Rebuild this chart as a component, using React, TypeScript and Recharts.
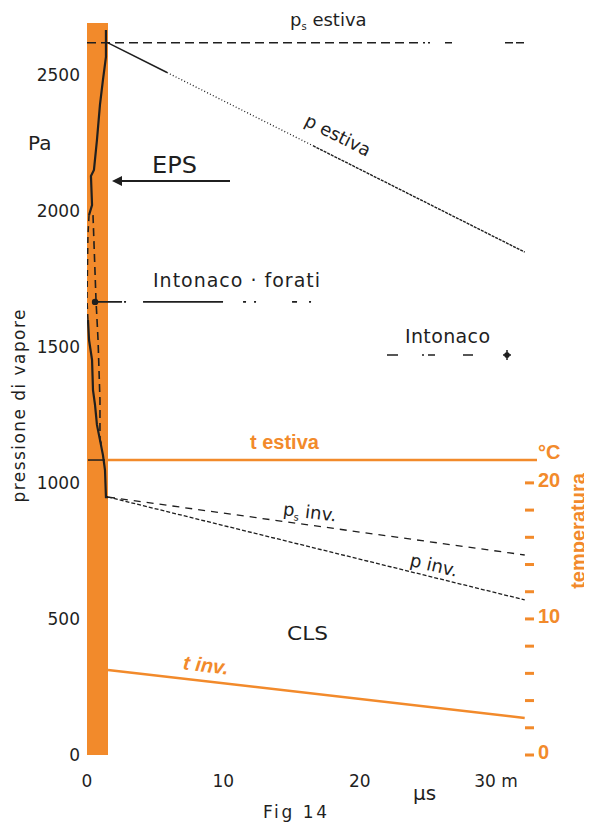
import React from "react";
import { ComposedChart, Line, Area, XAxis, YAxis } from "recharts";

const ORANGE = "#F28A2B";
const INK = "#1f1f1f";
const SANS = "'DejaVu Sans', sans-serif";
const BOLD = "'Liberation Sans', Arial, sans-serif";

// axis ticks
const xTicks = [0, 10, 20, 30];
const pTicks = [0, 500, 1000, 1500, 2000, 2500];
const tTicks = [0, 2, 4, 6, 8, 10, 12, 14, 16, 18, 20];
const tLabeled = [0, 10, 20];

// EPS layer (orange band), x in μs [m], p in Pa
const epsLayer = [
  { x: 0, p: 2690 },
  { x: 1.54, p: 2690 },
];

// summer (estiva) vapour pressures
const psEstiva = [
  { x: 0, p: 2617 },
  { x: 24.42, p: 2617 },
];
const psEstivaTail = [
  { x: 24.64, p: 2617 },
  { x: 32.1, p: 2617 },
];
const pEstivaSolid = [
  { x: 1.54, p: 2617 },
  { x: 5.87, p: 2508 },
];
const pEstivaDotted = [
  { x: 5.87, p: 2508 },
  { x: 16.57, p: 2239 },
];
const pEstivaDashed = [
  { x: 16.57, p: 2239 },
  { x: 32.1, p: 1848 },
];

// curves inside the EPS band
const epsCurveUpper = [
  { x: 1.39, p: 2664 },
  { x: 1.39, p: 2565 },
  { x: 1.17, p: 2481 },
  { x: 0.95, p: 2389 },
  { x: 0.73, p: 2260 },
  { x: 0.51, p: 2150 },
  { x: 0.29, p: 2128 },
  { x: 0.37, p: 2021 },
  { x: 0.15, p: 1984 },
];
const epsCurveGap = [
  { x: 0.15, p: 1984 },
  { x: 0.07, p: 1911 },
  { x: 0.0, p: 1672 },
  { x: 0.07, p: 1599 },
];
const epsCurveLower = [
  { x: 0.07, p: 1599 },
  { x: 0.15, p: 1525 },
  { x: 0.37, p: 1452 },
  { x: 0.44, p: 1341 },
  { x: 0.59, p: 1286 },
  { x: 0.73, p: 1213 },
  { x: 0.95, p: 1158 },
  { x: 1.17, p: 1102 },
  { x: 1.32, p: 1047 },
  { x: 1.39, p: 948 },
  { x: 1.54, p: 948 },
];
const epsCurveDashed = [
  { x: 0.44, p: 1984 },
  { x: 0.66, p: 1672 },
  { x: 0.81, p: 1525 },
  { x: 0.95, p: 1305 },
  { x: 0.95, p: 1158 },
  { x: 1.17, p: 1128 },
];
const interfaceStub = [
  { x: 0.07, p: 1084 },
  { x: 1.32, p: 1084 },
];

// layer pointer lines
const intonacoForati = [
  { x: 0.59, p: 1665 },
  { x: 16.72, p: 1665 },
];
const intonacoRight = [
  { x: 22.0, p: 1470 },
  { x: 30.8, p: 1470 },
];

// winter (inv.) vapour pressures
const psInv = [
  { x: 1.54, p: 948 },
  { x: 32.1, p: 735 },
];
const pInv = [
  { x: 1.54, p: 948 },
  { x: 32.1, p: 570 },
];

// temperatures (°C)
const tEstiva = [
  { x: 1.54, t: 21.68 },
  { x: 33, t: 21.68 },
];
const tInv = [
  { x: 1.54, t: 6.25 },
  { x: 32.1, t: 2.72 },
];

const mkLine = (
  id: string,
  data: any[],
  key: string,
  axis: string,
  color: string,
  width: number,
  dash?: string,
  dot?: any
) => (
  <Line
    key={id}
    data={data}
    dataKey={key}
    yAxisId={axis}
    type="linear"
    stroke={color}
    strokeWidth={width}
    strokeDasharray={dash}
    dot={dot || false}
    activeDot={false}
    isAnimationActive={false}
    legendType="none"
  />
);

const startDot = (props: any) => {
  const { cx, cy, index } = props;
  if (index !== 0) return <g key={`sd${index}`} />;
  return (
    <g key={`sd${index}`}>
      <circle cx={cx} cy={cy} r={3.2} fill={INK} />
    </g>
  );
};

const endCross = (props: any) => {
  const { cx, cy, index } = props;
  if (index !== 1) return <g key={`ec${index}`} />;
  return (
    <g key={`ec${index}`}>
      <circle cx={cx} cy={cy} r={2.8} fill={INK} />
      <line x1={cx - 4} x2={cx + 4} y1={cy} y2={cy} stroke={INK} strokeWidth={1.5} />
      <line x1={cx} x2={cx} y1={cy - 5} y2={cy + 5} stroke={INK} strokeWidth={1.5} />
    </g>
  );
};

const TempTick = (props: any) => {
  const { x, y, payload } = props;
  const v = payload.value;
  return (
    <g>
      <rect x={x - 12} y={y - 1.5} width={9} height={3} fill={ORANGE} />
      {tLabeled.includes(v) && (
        <text
          x={x + 1}
          y={y - 3}
          dominantBaseline="central"
          fontFamily={BOLD}
          fontWeight="bold"
          fontSize={20}
          fill={ORANGE}
        >
          {v}
        </text>
      )}
    </g>
  );
};

export default function App() {
  return (
    <div style={{ position: "relative", width: 584, height: 816 }}>
      <style>{"html,body{overflow:hidden;}"}</style>
      <ComposedChart
        width={584}
        height={816}
        margin={{ top: 15, right: 8, bottom: 39, left: 0 }}
      >
        <XAxis
          dataKey="x"
          type="number"
          domain={[0, 33]}
          ticks={xTicks}
          tickFormatter={(v: number) => (v === 30 ? "30 m" : String(v))}
          axisLine={false}
          tickLine={false}
          tickSize={0}
          tickMargin={20}
          height={30}
          allowDataOverflow
          tick={{ fontFamily: SANS, fontSize: 17, fill: INK }}
        />
        <YAxis
          yAxisId="p"
          type="number"
          domain={[0, 2690]}
          ticks={pTicks}
          axisLine={false}
          tickLine={false}
          tickSize={0}
          tickMargin={7}
          width={79}
          allowDataOverflow
          tick={{ fontFamily: SANS, fontSize: 17, fill: INK }}
        />
        <YAxis
          yAxisId="t"
          orientation="right"
          type="number"
          domain={[0, 53.8]}
          ticks={tTicks}
          axisLine={false}
          tickLine={false}
          tickSize={0}
          tickMargin={0}
          width={47}
          allowDataOverflow
          tick={<TempTick />}
        />
        <Area
          data={epsLayer}
          dataKey="p"
          yAxisId="p"
          type="linear"
          stroke="none"
          fill={ORANGE}
          fillOpacity={1}
          dot={false}
          activeDot={false}
          isAnimationActive={false}
        />
        {mkLine("psE", psEstiva, "p", "p", INK, 1.5, "9 5")}
        {mkLine("psEt", psEstivaTail, "p", "p", INK, 1.5, "2 3 2 15 7 53 8 3 8 40")}
        {mkLine("pE1", pEstivaSolid, "p", "p", INK, 1.5)}
        {mkLine("pE2", pEstivaDotted, "p", "p", INK, 1.3, "1 2.2")}
        {mkLine("pE3", pEstivaDashed, "p", "p", INK, 1.4, "3 1")}
        {mkLine("eu", epsCurveUpper, "p", "p", INK, 2.2)}
        {mkLine("eg", epsCurveGap, "p", "p", INK, 1.5, "6 5")}
        {mkLine("el", epsCurveLower, "p", "p", INK, 2.2)}
        {mkLine("ed", epsCurveDashed, "p", "p", INK, 1.6, "8 5")}
        {mkLine("st", interfaceStub, "p", "p", INK, 1.5)}
        {mkLine("if", intonacoForati, "p", "p", INK, 1.6, "27 2 2 17 80 20 3 8 2 36 5 12 2 30", startDot)}
        {mkLine("ir", intonacoRight, "p", "p", INK, 1.6, "11 24 2 4 7 28 10 40", endCross)}
        {mkLine("psI", psInv, "p", "p", INK, 1.3, "7 6")}
        {mkLine("pI", pInv, "p", "p", INK, 1.3, "4 2")}
        {mkLine("tE", tEstiva, "t", "t", ORANGE, 2.5)}
        {mkLine("tI", tInv, "t", "t", ORANGE, 2.5)}
      </ComposedChart>
      <svg
        width={584}
        height={816}
        style={{ position: "absolute", left: 0, top: 0, pointerEvents: "none" }}
      >
        <g fontFamily={SANS} fill={INK}>
          <text x={282} y={18} fontSize={18}>
            p<tspan fontSize={10} dy={4}>s</tspan>
            <tspan dy={-4}> estiva</tspan>
          </text>
          <text
            x={330}
            y={127}
            fontSize={18}
            textAnchor="middle"
            dominantBaseline="central"
            transform="rotate(26.7 330 127)"
          >
            p estiva
          </text>
          <text x={20} y={142} fontSize={20}>
            Pa
          </text>
          <text x={144} y={165} fontSize={23} textLength={45} lengthAdjust="spacingAndGlyphs">
            EPS
          </text>
          <line x1={222} y1={173} x2={110} y2={173} stroke={INK} strokeWidth={2} />
          <polygon points="104,173 114,168 114,178" fill={INK} />
          <text x={145} y={279} fontSize={19} textLength={167} lengthAdjust="spacing">
            Intonaco · forati
          </text>
          <text x={397} y={335} fontSize={19} textLength={85} lengthAdjust="spacing">
            Intonaco
          </text>
          <text x={275} y={507} fontSize={18} transform="rotate(7 275 502)">
            p<tspan fontSize={10} dy={4}>s</tspan>
            <tspan dy={-4}> inv.</tspan>
          </text>
          <text
            x={426}
            y={557}
            fontSize={18}
            textAnchor="middle"
            dominantBaseline="central"
            transform="rotate(13 426 557)"
          >
            p inv.
          </text>
          <text x={279} y={632} fontSize={20} textLength={41} lengthAdjust="spacingAndGlyphs">
            CLS
          </text>
          <text x={405} y={792} fontSize={20}>
            μs
          </text>
          <text x={255} y={810} fontSize={17} textLength={64} lengthAdjust="spacing">
            Fig 14
          </text>
          <text
            x={11}
            y={398}
            fontSize={17}
            textAnchor="middle"
            dominantBaseline="central"
            textLength={193}
            lengthAdjust="spacing"
            transform="rotate(-90 11 398)"
          >
            pressione di vapore
          </text>
        </g>
        <g fontFamily={BOLD} fontWeight="bold" fill={ORANGE}>
          <text x={242} y={441} fontSize={20}>
            t estiva
          </text>
          <text x={530} y={451} fontSize={20}>
            °C
          </text>
          <text
            x={570}
            y={523}
            fontSize={20}
            textAnchor="middle"
            dominantBaseline="central"
            transform="rotate(-90 570 523)"
          >
            temperatura
          </text>
          <text
            x={198}
            y={657}
            fontSize={20}
            fontStyle="italic"
            textAnchor="middle"
            dominantBaseline="central"
            transform="rotate(6.6 198 657)"
          >
            t inv.
          </text>
        </g>
      </svg>
    </div>
  );
}
